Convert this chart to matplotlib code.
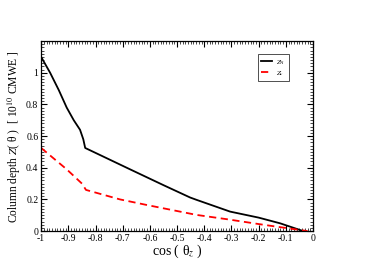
import matplotlib
matplotlib.use("Agg")
import matplotlib.pyplot as plt
from matplotlib.ticker import MultipleLocator

plt.rcParams['font.family'] = ['Liberation Serif', 'DejaVu Serif']
plt.rcParams['mathtext.fontset'] = 'stix'

# column depth curves
cos_n = [-1.0, -0.967, -0.935, -0.906, -0.88, -0.857, -0.845, -0.838, -0.75, -0.673,
         -0.55, -0.452, -0.428, -0.305, -0.2, -0.121, -0.036]
z_n = [1.10, 1.00, 0.89, 0.78, 0.70, 0.64, 0.58, 0.525, 0.453, 0.39,
       0.29, 0.212, 0.197, 0.123, 0.085, 0.049, 0.0]

cos_nu = [-1.0, -0.906, -0.85, -0.835, -0.71, -0.612, -0.428, -0.317, -0.183, -0.02]
z_nu = [0.525, 0.39, 0.30, 0.26, 0.20, 0.165, 0.102, 0.075, 0.04, 0.0]

x_ticks = [-1.0, -0.9, -0.8, -0.7, -0.6, -0.5, -0.4, -0.3, -0.2, -0.1, 0.0]
x_labels = ['-1', '-0.9', '-0.8', '-0.7', '-0.6', '-0.5', '-0.4', '-0.3', '-0.2', '-0.1', '0']
y_ticks = [0, 0.2, 0.4, 0.6, 0.8, 1.0]
y_labels = ['0', '0.2', '0.4', '0.6', '0.8', '1']

fig = plt.figure(figsize=(3.74, 2.65), dpi=100)
ax = fig.add_axes([0.11, 0.128, 0.727, 0.717])

ax.plot(cos_n, z_n, color='black', lw=1.3, label=r'$Z_{\rm N}$')
ax.plot(cos_nu, z_nu, color='red', lw=1.3, ls=(0, (4, 2.5)), label=r'$Z_{\nu}$')

ax.set_xticks(x_ticks, x_labels)
ax.set_yticks(y_ticks, y_labels)
ax.xaxis.set_minor_locator(MultipleLocator(0.01))
ax.yaxis.set_minor_locator(MultipleLocator(0.02))
ax.set_xlim(-1, 0)
ax.set_ylim(0, 1.2)
ax.tick_params(which='both', direction='in', top=True, right=True, labelsize=7, pad=2)
ax.tick_params(which='major', length=4, width=0.8)
ax.tick_params(which='minor', length=2, width=0.5)
for s in ax.spines.values():
    s.set_linewidth(0.9)

ax.set_xlabel('cos ( θ$_z$ )', fontsize=10, labelpad=0)
ax.set_ylabel('Column depth $Z$( θ )  [ 10$^{10}$ CMWE ]', fontsize=8.3, labelpad=2)

leg = ax.legend(loc='upper right', bbox_to_anchor=(0.912, 0.93), borderaxespad=0,
                fontsize=5, frameon=True, fancybox=False, edgecolor='black',
                handlelength=1.6, handletextpad=0.6, borderpad=0.5, labelspacing=0.3)
leg.get_frame().set_linewidth(0.6)

fig.savefig('out.png', dpi=100)
